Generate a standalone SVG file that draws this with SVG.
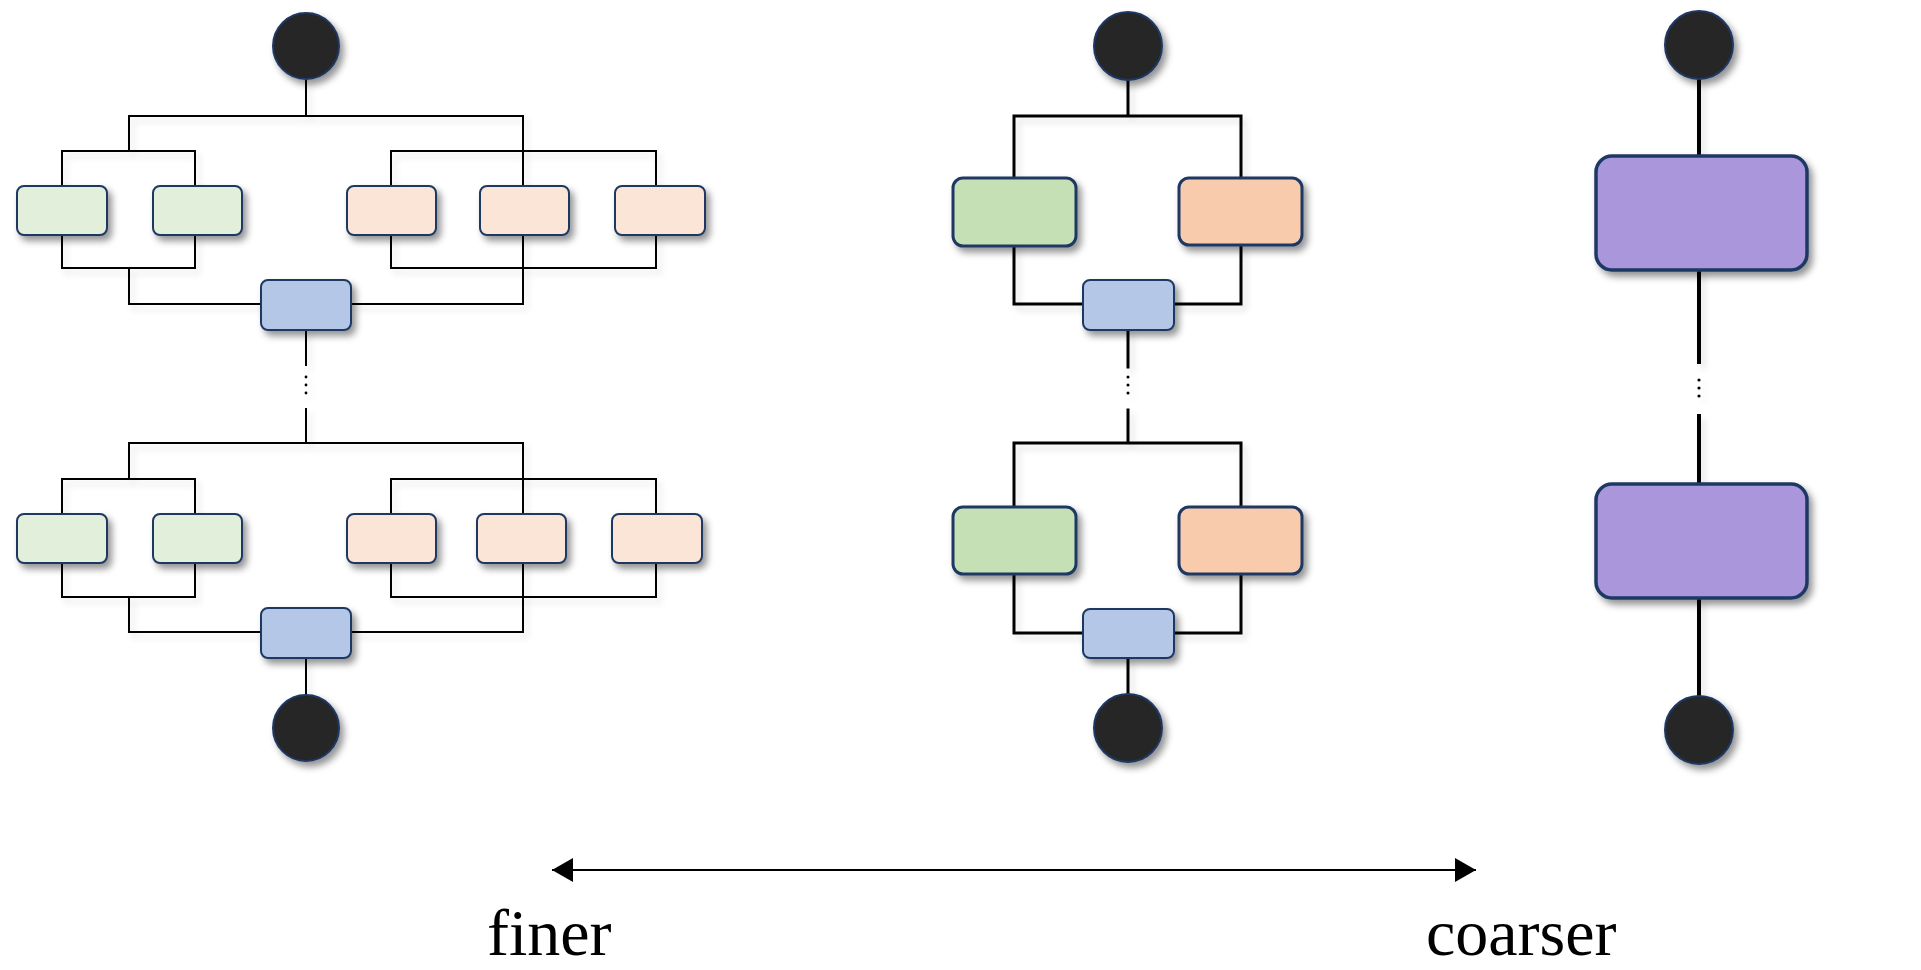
<svg xmlns="http://www.w3.org/2000/svg" width="1921" height="970" viewBox="0 0 1921 970">
<defs>
<filter id="sh" x="-30%" y="-30%" width="170%" height="170%">
<feDropShadow dx="4" dy="5" stdDeviation="3.5" flood-color="#000" flood-opacity="0.42"/>
</filter>
<filter id="lsh" x="-20%" y="-20%" width="150%" height="150%">
<feDropShadow dx="4" dy="5" stdDeviation="3" flood-color="#000" flood-opacity="0.12"/>
</filter>
<marker id="ah" viewBox="0 0 21 24" refX="21" refY="12" markerWidth="21" markerHeight="24" markerUnits="userSpaceOnUse" orient="auto-start-reverse">
<path d="M0,0 L21,12 L0,24 Z" fill="#000"/>
</marker>
</defs>
<style>
.w{fill:none;stroke:#000;stroke-linejoin:miter;stroke-linecap:square}
.t1{stroke-width:2}
.t2{stroke-width:3}
.t3{stroke-width:4}
.b{stroke:#1F3864;filter:url(#sh)}
.s1{stroke-width:2}
.s2{stroke-width:3}
.s3{stroke-width:3.5}
.g1{fill:#E2EFDA}
.o1{fill:#FBE5D6}
.bl{fill:#B4C7E7}
.g2{fill:#C5E0B4}
.o2{fill:#F8CBAD}
.pu{fill:#A996DB}
.c{fill:#262626;stroke:#1F3864;stroke-width:2;filter:url(#sh)}
.d{fill:#000}
.lbl{font-family:"Liberation Serif","Times New Roman",serif;font-size:66px;fill:#000}
</style>
<rect width="1921" height="970" fill="#fff"/>

<g id="connectors" filter="url(#lsh)">
<!-- left stage 1 -->
<path class="w t1" d="M306,79V116 M129,116H523 M129,116V151 M62,151H195 M62,151V186 M195,151V186 M391,151H656 M391,151V186 M656,151V186 M523,116V186"/>
<path class="w t1" d="M62,235V268H195V235 M391,235V268H656V235 M129,268V304H261 M523,235V304H351 M306,330V365"/>
<circle class="d" cx="306" cy="377" r="1.4"/><circle class="d" cx="306" cy="385" r="1.4"/><circle class="d" cx="306" cy="393" r="1.4"/>
<!-- left stage 2 -->
<path class="w t1" d="M306,409V443 M129,443H523 M129,443V479 M62,479H195 M62,479V514 M195,479V514 M391,479H656 M391,479V514 M656,479V514 M523,443V514"/>
<path class="w t1" d="M62,563V597H195V563 M391,563V597H656V563 M129,597V632H261 M523,563V632H351 M306,658V695"/>
<!-- middle stage 1 -->
<path class="w t2" d="M1128,80V116 M1014,116H1241 M1014,116V178 M1241,116V178 M1014,246V304H1083 M1241,245V304H1174 M1128,330V367"/>
<circle class="d" cx="1128" cy="377" r="1.5"/><circle class="d" cx="1128" cy="385" r="1.5"/><circle class="d" cx="1128" cy="393" r="1.5"/>
<!-- middle stage 2 -->
<path class="w t2" d="M1128,410V443 M1014,443H1241 M1014,443V507 M1241,443V507 M1014,574V633H1083 M1241,574V633H1174 M1128,658V695"/>
<!-- right -->
<path class="w t3" d="M1699,79V156 M1699,270V362 M1699,416V484 M1699,598V697"/>
<circle class="d" cx="1699" cy="380" r="1.6"/><circle class="d" cx="1699" cy="388" r="1.6"/><circle class="d" cx="1699" cy="396" r="1.6"/>
</g>

<!-- left diagram nodes -->
<g id="L_start"><circle class="c" cx="306" cy="46" r="33"/></g>
<g id="L1_g1"><rect class="b s1 g1" x="17" y="186" width="90" height="49" rx="7"/></g>
<g id="L1_g2"><rect class="b s1 g1" x="153" y="186" width="89" height="49" rx="7"/></g>
<g id="L1_o1"><rect class="b s1 o1" x="347" y="186" width="89" height="49" rx="7"/></g>
<g id="L1_o2"><rect class="b s1 o1" x="480" y="186" width="89" height="49" rx="7"/></g>
<g id="L1_o3"><rect class="b s1 o1" x="615" y="186" width="90" height="49" rx="7"/></g>
<g id="L1_b"><rect class="b s1 bl" x="261" y="280" width="90" height="50" rx="7"/></g>
<g id="L2_g1"><rect class="b s1 g1" x="17" y="514" width="90" height="49" rx="7"/></g>
<g id="L2_g2"><rect class="b s1 g1" x="153" y="514" width="89" height="49" rx="7"/></g>
<g id="L2_o1"><rect class="b s1 o1" x="347" y="514" width="89" height="49" rx="7"/></g>
<g id="L2_o2"><rect class="b s1 o1" x="477" y="514" width="89" height="49" rx="7"/></g>
<g id="L2_o3"><rect class="b s1 o1" x="612" y="514" width="90" height="49" rx="7"/></g>
<g id="L2_b"><rect class="b s1 bl" x="261" y="608" width="90" height="50" rx="7"/></g>
<g id="L_end"><circle class="c" cx="306" cy="728" r="33"/></g>

<!-- middle diagram nodes -->
<g id="M_start"><circle class="c" cx="1128" cy="46" r="34"/></g>
<g id="M1_g"><rect class="b s2 g2" x="953" y="178" width="123" height="68" rx="10"/></g>
<g id="M1_o"><rect class="b s2 o2" x="1179" y="178" width="123" height="67" rx="10"/></g>
<g id="M1_b"><rect class="b s1 bl" x="1083" y="280" width="91" height="50" rx="7"/></g>
<g id="M2_g"><rect class="b s2 g2" x="953" y="507" width="123" height="67" rx="10"/></g>
<g id="M2_o"><rect class="b s2 o2" x="1179" y="507" width="123" height="67" rx="10"/></g>
<g id="M2_b"><rect class="b s1 bl" x="1083" y="609" width="91" height="49" rx="7"/></g>
<g id="M_end"><circle class="c" cx="1128" cy="728" r="34"/></g>

<!-- right diagram nodes -->
<g id="R_start"><circle class="c" cx="1699" cy="45" r="34"/></g>
<g id="R1"><rect class="b s3 pu" x="1596" y="156" width="211" height="114" rx="16"/></g>
<g id="R2"><rect class="b s3 pu" x="1596" y="484" width="211" height="114" rx="16"/></g>
<g id="R_end"><circle class="c" cx="1699" cy="730" r="34"/></g>

<!-- scale arrow -->
<g id="scale">
<line x1="552" y1="870" x2="1476" y2="870" stroke="#000" stroke-width="2" marker-start="url(#ah)" marker-end="url(#ah)"/>
<text class="lbl" x="487" y="955">finer</text>
<text class="lbl" x="1426" y="955">coarser</text>
</g>
</svg>
